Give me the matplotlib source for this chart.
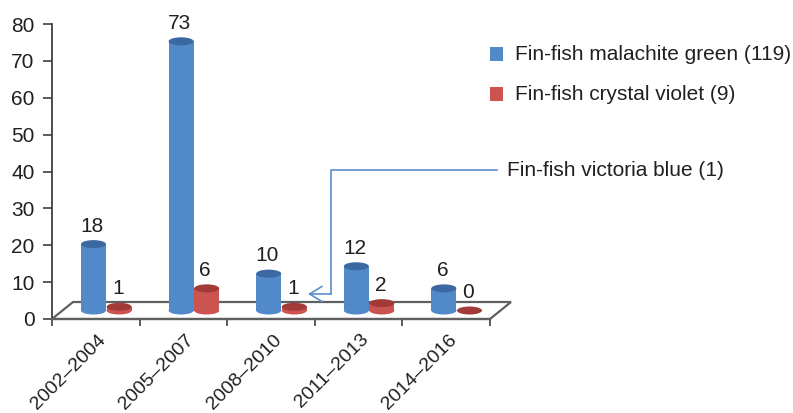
import matplotlib
matplotlib.use("Agg")
import matplotlib.pyplot as plt
from matplotlib.patches import Rectangle, Ellipse, Polygon

# Data
periods = ["2002\u20132004", "2005\u20132007", "2008\u20132010", "2011\u20132013", "2014\u20132016"]
malachite_green = [18, 73, 10, 12, 6]
crystal_violet = [1, 6, 1, 2, 0]
series_names = ["Fin-fish malachite green (119)", "Fin-fish crystal violet (9)"]
victoria_blue_note = "Fin-fish victoria blue (1)"
y_ticks = [0, 10, 20, 30, 40, 50, 60, 70, 80]

W, H = 793, 413
DPI = 100
FS = 15
plt.rcParams["font.family"] = ["Liberation Sans", "DejaVu Sans"]
TEXT = "#231f20"
AXIS = "#404040"
FLOOR = "#5f5f5f"
BLUE, BLUE_TOP = "#5189c9", "#3c68a2"
RED, RED_TOP = "#cc5450", "#a23a37"

fig = plt.figure(figsize=(W / DPI, H / DPI), dpi=DPI)
# plot box in pixels: x 52..490, y 24..319 (top-down)
ax = fig.add_axes([52 / W, (H - 319) / H, 438 / W, 295 / H])
ax.set_xlim(-0.5, len(periods) - 0.5)
ax.set_ylim(0, 80)
ax.patch.set_visible(False)

px_x = (len(periods)) / 438.0   # category units per pixel
px_y = 80 / 295.0               # value units per pixel

# depth of the 3D floor
depth_dx, depth_dy = 21 * px_x, 17 * px_y
mid_dx, mid_dy = depth_dx / 2, depth_dy / 2

# floor
x0, x1 = -0.5, len(periods) - 0.5
floor = Polygon([(x0, 0), (x1, 0), (x1 + depth_dx, depth_dy), (x0 + depth_dx, depth_dy)],
                closed=True, facecolor="white", edgecolor=FLOOR, lw=1.6,
                clip_on=False, zorder=1)
ax.add_patch(floor)

bar_w = 25 * px_x
ell_h = 8 * px_y
offset = 12.8 * px_x


def cylinder(xc, value, body, top):
    base = mid_dy
    if value > 0:
        ax.add_patch(Ellipse((xc, base), bar_w, ell_h, facecolor=body, edgecolor="none",
                             clip_on=False, zorder=3))
        ax.add_patch(Rectangle((xc - bar_w / 2, base), bar_w, value, facecolor=body,
                               edgecolor="none", clip_on=False, zorder=3))
    ax.add_patch(Ellipse((xc, base + value), bar_w, ell_h, facecolor=top,
                         edgecolor="none", clip_on=False, zorder=4))
    ax.annotate(str(value), xy=(xc, base + value), xytext=(-1, 6), textcoords="offset points",
                ha="center", va="bottom", fontsize=FS, color=TEXT, zorder=5)


for i, (g, c) in enumerate(zip(malachite_green, crystal_violet)):
    cylinder(i + mid_dx - offset, g, BLUE, BLUE_TOP)
    cylinder(i + mid_dx + offset, c, RED, RED_TOP)

# axes styling
for side in ("top", "right"):
    ax.spines[side].set_visible(False)
ax.spines["left"].set_color(AXIS)
ax.spines["left"].set_linewidth(1.3)
ax.spines["bottom"].set_color(FLOOR)
ax.spines["bottom"].set_linewidth(1.6)
ax.spines["left"].set_zorder(2)

ax.set_yticks(y_ticks)
ax.set_yticklabels([str(t) for t in y_ticks])
ax.tick_params(axis="y", direction="out", length=6.5, width=1.2, color=AXIS, pad=6,
               labelsize=FS, labelcolor=TEXT)
ax.set_xticks([k - 0.5 for k in range(len(periods) + 1)])
ax.set_xticklabels([])
ax.tick_params(axis="x", direction="out", length=5, width=1.2, color=AXIS)

for i, lab in enumerate(periods):
    ax.annotate(lab, xy=(i, 0), xycoords=("data", "axes fraction"), xytext=(5.5, -13),
                textcoords="offset points", rotation=45, ha="right", va="center",
                rotation_mode="anchor", fontsize=14, color=TEXT)

# legend
for k, (name, col) in enumerate(zip(series_names, [BLUE, RED])):
    yc = 54 + 40 * k
    fig.patches.append(Rectangle((490 / W, (H - yc - 7) / H), 13 / W, 14 / H,
                                 facecolor=col, edgecolor="none", transform=fig.transFigure))
    fig.text(515 / W, (H - yc) / H, name, ha="left", va="center", fontsize=FS, color=TEXT)

# callout for the single victoria blue case
LINE = "#5b8ed0"
cx = 331
fig.text(507 / W, (H - 171) / H, victoria_blue_note, ha="left", va="center",
         fontsize=FS, color=TEXT)
fig.add_artist(plt.Line2D([497 / W, cx / W, cx / W], [(H - 170) / H, (H - 170) / H, (H - 294) / H],
                          color=LINE, lw=1.2, transform=fig.transFigure))
ax.annotate("", xy=(308 / W, (H - 294) / H), xycoords="figure fraction",
            xytext=(cx / W, (H - 294) / H), textcoords="figure fraction",
            arrowprops=dict(arrowstyle="->,head_length=0.9,head_width=0.55", color=LINE, lw=1.2,
                            shrinkA=0, shrinkB=0))

fig.savefig("out.png", dpi=DPI)
